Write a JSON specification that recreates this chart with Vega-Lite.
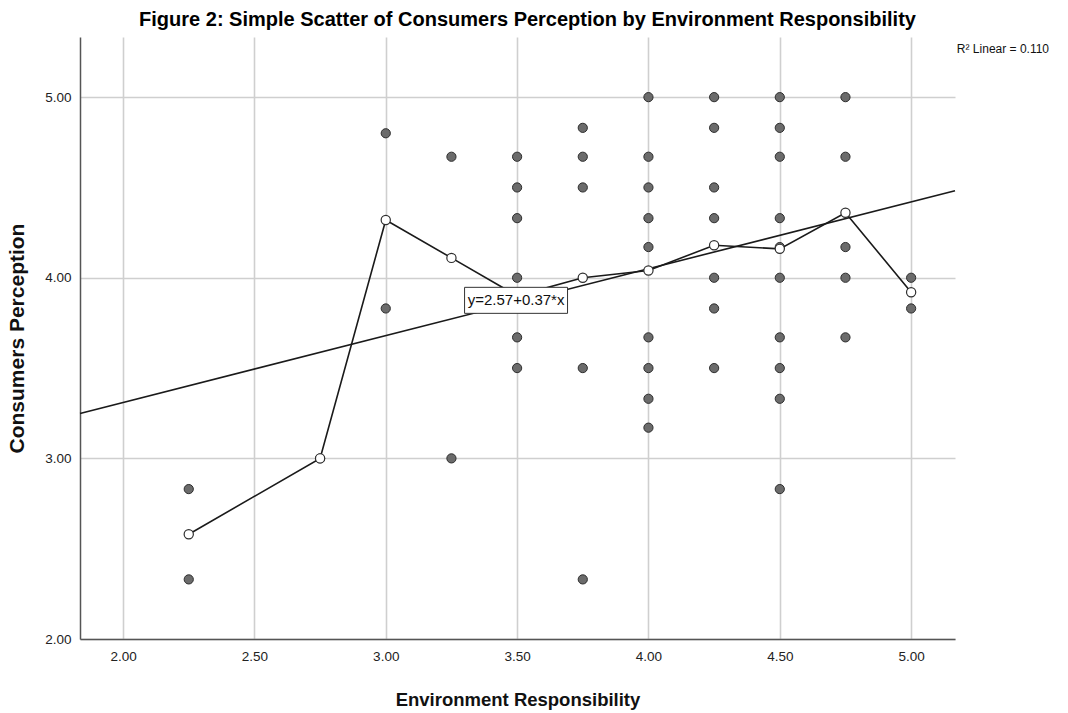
{
  "$schema": "https://vega.github.io/schema/vega-lite/v6.json",
  "width": 875,
  "height": 602,
  "autosize": "none",
  "padding": {"left": 80, "top": 37, "right": 113, "bottom": 74},
  "background": "white",
  "title": {
    "text": "Figure 2: Simple Scatter of Consumers Perception by Environment Responsibility",
    "font": "Liberation Sans, Arial",
    "fontSize": 20,
    "fontWeight": "bold",
    "color": "#000000",
    "anchor": "middle",
    "dx": 10,
    "offset": 7
  },
  "config": {
    "view": {"stroke": null},
    "font": "Liberation Sans, Arial",
    "axis": {
      "gridColor": "#cfcfcf",
      "gridWidth": 1.6,
      "domainColor": "#555555",
      "domainWidth": 1.5,
      "ticks": false,
      "labelFontSize": 13.5,
      "labelColor": "#222222",
      "titleFontWeight": "bold",
      "titleColor": "#111111",
      "labelFont": "Liberation Sans, Arial",
      "titleFont": "Liberation Sans, Arial"
    }
  },
  "datasets": {
    "points": [
      {"x": 2.25, "y": 2.83}, {"x": 2.25, "y": 2.33},
      {"x": 2.75, "y": 3.0},
      {"x": 3.0, "y": 4.8}, {"x": 3.0, "y": 3.83},
      {"x": 3.25, "y": 4.67}, {"x": 3.25, "y": 3.0},
      {"x": 3.5, "y": 4.67}, {"x": 3.5, "y": 4.5}, {"x": 3.5, "y": 4.33}, {"x": 3.5, "y": 4.0}, {"x": 3.5, "y": 3.67}, {"x": 3.5, "y": 3.5},
      {"x": 3.75, "y": 4.83}, {"x": 3.75, "y": 4.67}, {"x": 3.75, "y": 4.5}, {"x": 3.75, "y": 3.5}, {"x": 3.75, "y": 2.33},
      {"x": 4.0, "y": 5.0}, {"x": 4.0, "y": 4.67}, {"x": 4.0, "y": 4.5}, {"x": 4.0, "y": 4.33}, {"x": 4.0, "y": 4.17}, {"x": 4.0, "y": 3.67}, {"x": 4.0, "y": 3.5}, {"x": 4.0, "y": 3.33}, {"x": 4.0, "y": 3.17},
      {"x": 4.25, "y": 5.0}, {"x": 4.25, "y": 4.83}, {"x": 4.25, "y": 4.5}, {"x": 4.25, "y": 4.33}, {"x": 4.25, "y": 4.0}, {"x": 4.25, "y": 3.83}, {"x": 4.25, "y": 3.5},
      {"x": 4.5, "y": 5.0}, {"x": 4.5, "y": 4.83}, {"x": 4.5, "y": 4.67}, {"x": 4.5, "y": 4.33}, {"x": 4.5, "y": 4.17}, {"x": 4.5, "y": 4.0}, {"x": 4.5, "y": 3.67}, {"x": 4.5, "y": 3.5}, {"x": 4.5, "y": 3.33}, {"x": 4.5, "y": 2.83},
      {"x": 4.75, "y": 5.0}, {"x": 4.75, "y": 4.67}, {"x": 4.75, "y": 4.17}, {"x": 4.75, "y": 4.0}, {"x": 4.75, "y": 3.67},
      {"x": 5.0, "y": 4.0}, {"x": 5.0, "y": 3.83}
    ],
    "means": [
      {"x": 2.25, "y": 2.58}, {"x": 2.75, "y": 3.0}, {"x": 3.0, "y": 4.32}, {"x": 3.25, "y": 4.11},
      {"x": 3.5, "y": 3.9}, {"x": 3.75, "y": 4.0}, {"x": 4.0, "y": 4.04}, {"x": 4.25, "y": 4.18},
      {"x": 4.5, "y": 4.16}, {"x": 4.75, "y": 4.36}, {"x": 5.0, "y": 3.92}
    ],
    "fit": [
      {"x": 1.836, "y": 3.249}, {"x": 5.167, "y": 4.482}
    ],
    "label": [
      {"x": 3.3, "x2": 3.692, "y": 3.947, "y2": 3.803, "tx": 3.496, "ty": 3.875, "text": "y=2.57+0.37*x"}
    ],
    "r2": [
      {"x": 5.525, "y": 5.265, "text": "R² Linear = 0.110"}
    ]
  },
  "layer": [
    {
      "data": {"name": "points"},
      "mark": {"type": "circle", "size": 85, "fill": "#6b6b6b", "stroke": "#2e2e2e", "strokeWidth": 1, "opacity": 1},
      "encoding": {
        "x": {
          "field": "x", "type": "quantitative",
          "scale": {"domain": [1.836, 5.167], "nice": false, "zero": false},
          "axis": {"values": [2, 2.5, 3, 3.5, 4, 4.5, 5], "format": ".2f", "title": "Environment Responsibility", "titleFontSize": 18.5, "titlePadding": 28, "labelPadding": 10}
        },
        "y": {
          "field": "y", "type": "quantitative",
          "scale": {"domain": [2, 5.333], "nice": false, "zero": false},
          "axis": {"values": [2, 3, 4, 5], "format": ".2f", "title": "Consumers Perception", "titleFontSize": 21, "titlePadding": 17, "labelPadding": 9}
        }
      }
    },
    {
      "data": {"name": "fit"},
      "mark": {"type": "line", "color": "#1a1a1a", "strokeWidth": 1.6},
      "encoding": {
        "x": {"field": "x", "type": "quantitative"},
        "y": {"field": "y", "type": "quantitative"}
      }
    },
    {
      "data": {"name": "means"},
      "mark": {"type": "line", "color": "#1a1a1a", "strokeWidth": 1.6},
      "encoding": {
        "x": {"field": "x", "type": "quantitative"},
        "y": {"field": "y", "type": "quantitative"}
      }
    },
    {
      "data": {"name": "means"},
      "mark": {"type": "point", "shape": "circle", "size": 85, "filled": true, "fill": "#ffffff", "stroke": "#2e2e2e", "strokeWidth": 1.2, "opacity": 1},
      "encoding": {
        "x": {"field": "x", "type": "quantitative"},
        "y": {"field": "y", "type": "quantitative"}
      }
    },
    {
      "data": {"name": "label"},
      "mark": {"type": "rect", "fill": "#ffffff", "stroke": "#333333", "strokeWidth": 1},
      "encoding": {
        "x": {"field": "x", "type": "quantitative"},
        "x2": {"field": "x2"},
        "y": {"field": "y", "type": "quantitative"},
        "y2": {"field": "y2"}
      }
    },
    {
      "data": {"name": "label"},
      "mark": {"type": "text", "fontSize": 15, "color": "#111111", "align": "center", "baseline": "middle"},
      "encoding": {
        "x": {"field": "tx", "type": "quantitative"},
        "y": {"field": "ty", "type": "quantitative"},
        "text": {"field": "text"}
      }
    },
    {
      "data": {"name": "r2"},
      "mark": {"type": "text", "fontSize": 12, "color": "#111111", "align": "right", "baseline": "middle"},
      "encoding": {
        "x": {"field": "x", "type": "quantitative"},
        "y": {"field": "y", "type": "quantitative"},
        "text": {"field": "text"}
      }
    }
  ]
}
